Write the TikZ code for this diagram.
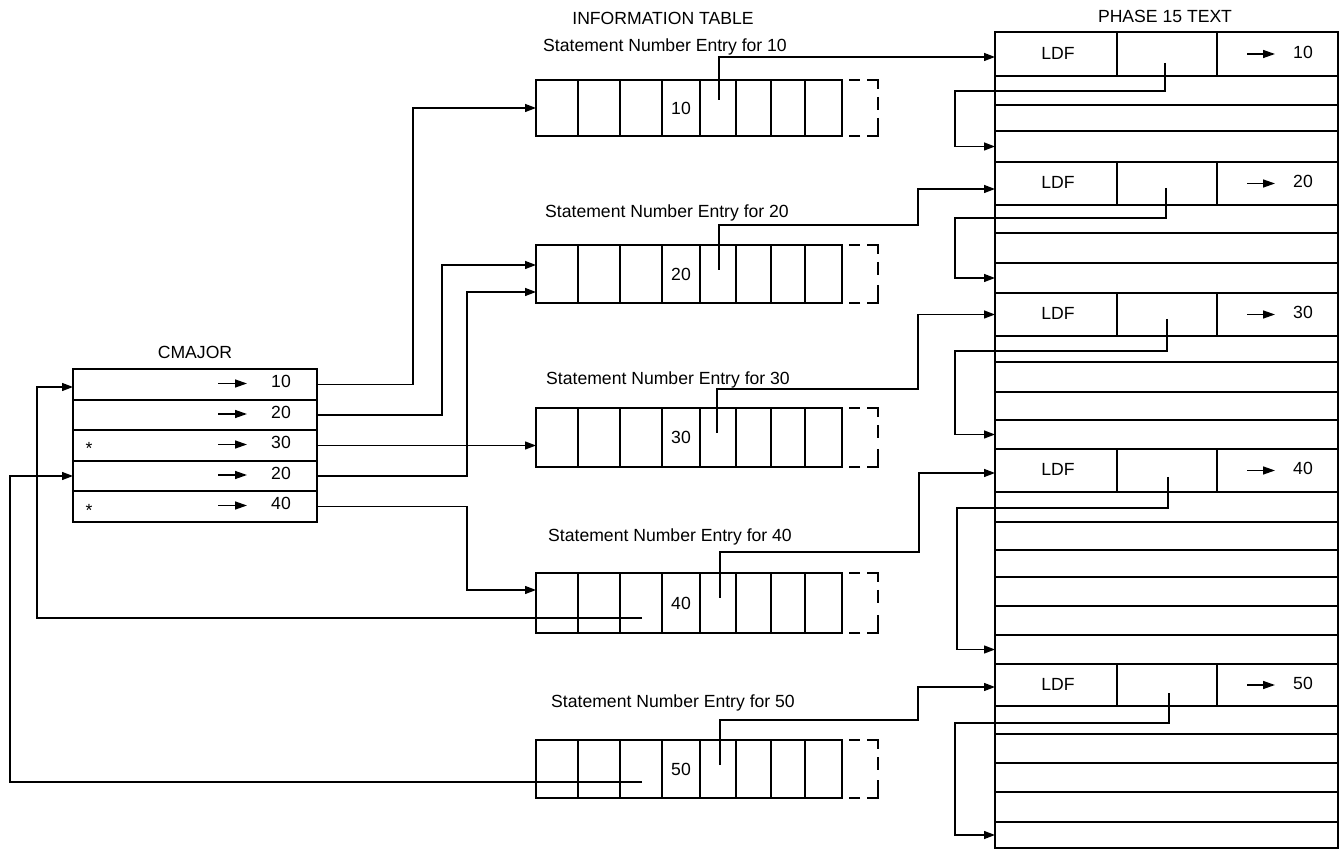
\documentclass[tikz,border=0pt]{standalone}
\usepackage{fontspec}
\setmainfont{Liberation Sans}
\usetikzlibrary{arrows.meta,fit,calc}
\newcommand\infotab[4]{%
  \node[outline, fit={(536,#2)(842,#3)}] (#1) {};
  \foreach \cx in {578,620,662,700,736,771,805} \draw[sepline] (\cx,#2) -- (\cx,#3);
  \draw[sepline] (849,#2) -- (860,#2);
  \draw[sepline] (867,#2) -- (878,#2) -- (878,#2+9);
  \draw[sepline] (878,#2+17) -- (878,#2+30);
  \draw[sepline] (878,#3-18) -- (878,#3) -- (867,#3);
  \draw[sepline] (860,#3) -- (849,#3);
  \node[lbl] (#1num) at (681,{(#2+#3)/2}) {#4};
}
\begin{document}
\begin{tikzpicture}[x=0.5pt,y=-0.5pt,
  outline/.style={draw, line width=1.1pt, inner sep=0pt, outer sep=0pt},
  rowbox/.style={draw, line width=0.75pt, inner sep=0pt, outer sep=0pt},
  blank/.style={inner sep=0pt, outer sep=0pt},
  sepline/.style={line width=0.75pt},
  conn/.style={line width=0.65pt},
  arr/.style={conn, -{Triangle[length=5.5pt,width=4pt]}},
  txtarr/.style={line width=0.7pt, -{Triangle[length=6pt,width=4pt]}},
  lbl/.style={font=\fontsize{8.8}{10}\selectfont, inner sep=0pt}]
\useasboundingbox (0,0) rectangle (1344,849);

% ---------------- CMAJOR ----------------
\node[lbl] (cmtitle) at (195,352) {CMAJOR};
\foreach \n/\a/\b in {1/369/400, 2/400/430, 3/430/461, 4/461/491, 5/491/522}
  \node[rowbox, fit={(73,\a)(317,\b)}] (c\n) {};
\node[outline, fit={(73,369)(317,522)}] (cmajor) {};
\foreach \n/\v in {1/10, 2/20, 3/30, 4/20, 5/40} {
  \draw[txtarr] ($(c\n.west)+(145,-1)$) -- ++(29,0);
  \node[lbl] (cv\n) at ($(c\n.west)+(208,-3)$) {\v};
}
\node[lbl] (star3) at ($(c3.west)+(16,3)$) {*};
\node[lbl] (star5) at ($(c5.west)+(16,4)$) {*};

% ---------------- INFORMATION TABLE ----------------
\node[lbl] (ittitle) at (663,18) {INFORMATION TABLE};
\node[lbl] (t10) at (665,47) {Statement Number Entry for 10};
\node[lbl] (t20) at (667,213) {Statement Number Entry for 20};
\node[lbl] (t30) at (668,380) {Statement Number Entry for 30};
\node[lbl] (t40) at (670,537) {Statement Number Entry for 40};
\node[lbl] (t50) at (673,703) {Statement Number Entry for 50};
\infotab{ib10}{80}{136}{10}
\infotab{ib20}{245}{303}{20}
\infotab{ib30}{408}{467}{30}
\infotab{ib40}{573}{633}{40}
\infotab{ib50}{740}{798}{50}

% ---------------- PHASE 15 TEXT ----------------
\node[lbl] (ptitle) at (1165,16) {PHASE 15 TEXT};
\node[outline, fit={(995,32)(1338,848)}] (phase) {};
\foreach \yy in {76,105,131,162,205,233,263,293,336,362,392,420,449,492,522,550,577,606,635,664,706,734,763,792,822}
  \draw[sepline] (995,\yy) -- (1338,\yy);
\foreach \n/\a/\b in {10/32/76, 20/162/205, 30/293/336, 40/449/492, 50/664/706} {
  \node[blank, fit={(995,\a)(1338,\b)}] (p\n) {};
  \draw[sepline] (1117,\a) -- (1117,\b);
  \draw[sepline] (1217,\a) -- (1217,\b);
  \node[lbl] (ldf\n) at ($(p\n.west)+(63,-1)$) {LDF};
  \draw[txtarr] ($(p\n.west)+(252,0)$) -- ++(28,0);
  \node[lbl] (pv\n) at ($(p\n.west)+(308,-2)$) {\n};
}
\foreach \n/\a/\b in {10/131/162, 20/263/293, 30/420/449, 40/635/664, 50/822/848}
  \node[blank, fit={(995,\a)(1338,\b)}] (r\n) {};

% loops inside PHASE 15 TEXT
\coordinate (q10) at (1165,63);  \coordinate (l10) at (955,91);
\coordinate (q20) at (1166,188); \coordinate (l20) at (955,218);
\coordinate (q30) at (1167,319); \coordinate (l30) at (955,351);
\coordinate (q40) at (1168,477); \coordinate (l40) at (957,508);
\coordinate (q50) at (1169,693); \coordinate (l50) at (955,723);
\foreach \n in {10,20,30,40,50}
  \draw[arr] (q\n) |- (l\n) |- (r\n.west);

% information table -> phase 15 text
\coordinate (s10) at (719,100);
\coordinate (s20) at (719,270); \coordinate (k20) at (918,225);
\coordinate (s30) at (717,433); \coordinate (k30) at (918,389);
\coordinate (s40) at (720,598); \coordinate (k40) at (919,552);
\coordinate (s50) at (720,765); \coordinate (k50) at (918,720);
\draw[arr] (s10) |- ([yshift=-1.5pt]p10.west);
\draw[arr] (s20) |- (k20) |- ([yshift=-2.75pt]p20.west);
\draw[arr] (s30) |- (k30) |- (p30.west);
\draw[arr] (s40) |- (k40) |- ([yshift=-1.25pt]p40.west);
\draw[arr] (s50) |- (k50) |- ([yshift=-1pt]p50.west);

% CMAJOR -> information table
\coordinate (j1) at (413,108);
\coordinate (j2) at (442,265);
\coordinate (j4) at (467,292);
\coordinate (j5) at (467,590);
\draw[arr] (c1.east) -| (j1) -- (ib10.west);
\draw[arr] (c2.east) -| (j2) -- (j2 -| ib20.west);
\draw[arr] (c3.east) -- (c3.east -| ib30.west);
\draw[arr] (c4.east) -| (j4) -- (j4 -| ib20.west);
\draw[arr] (c5.east) -| (j5) -- (j5 -| ib40.west);

% information table -> CMAJOR
\coordinate (f40) at (642,618); \coordinate (v40) at (37,618);
\coordinate (f50) at (642,782); \coordinate (v50) at (10,782);
\draw[arr] (f40) -- (v40) |- ([yshift=-1.25pt]c1.west);
\draw[arr] (f50) -- (v50) |- (c4.west);
\end{tikzpicture}
\end{document}
